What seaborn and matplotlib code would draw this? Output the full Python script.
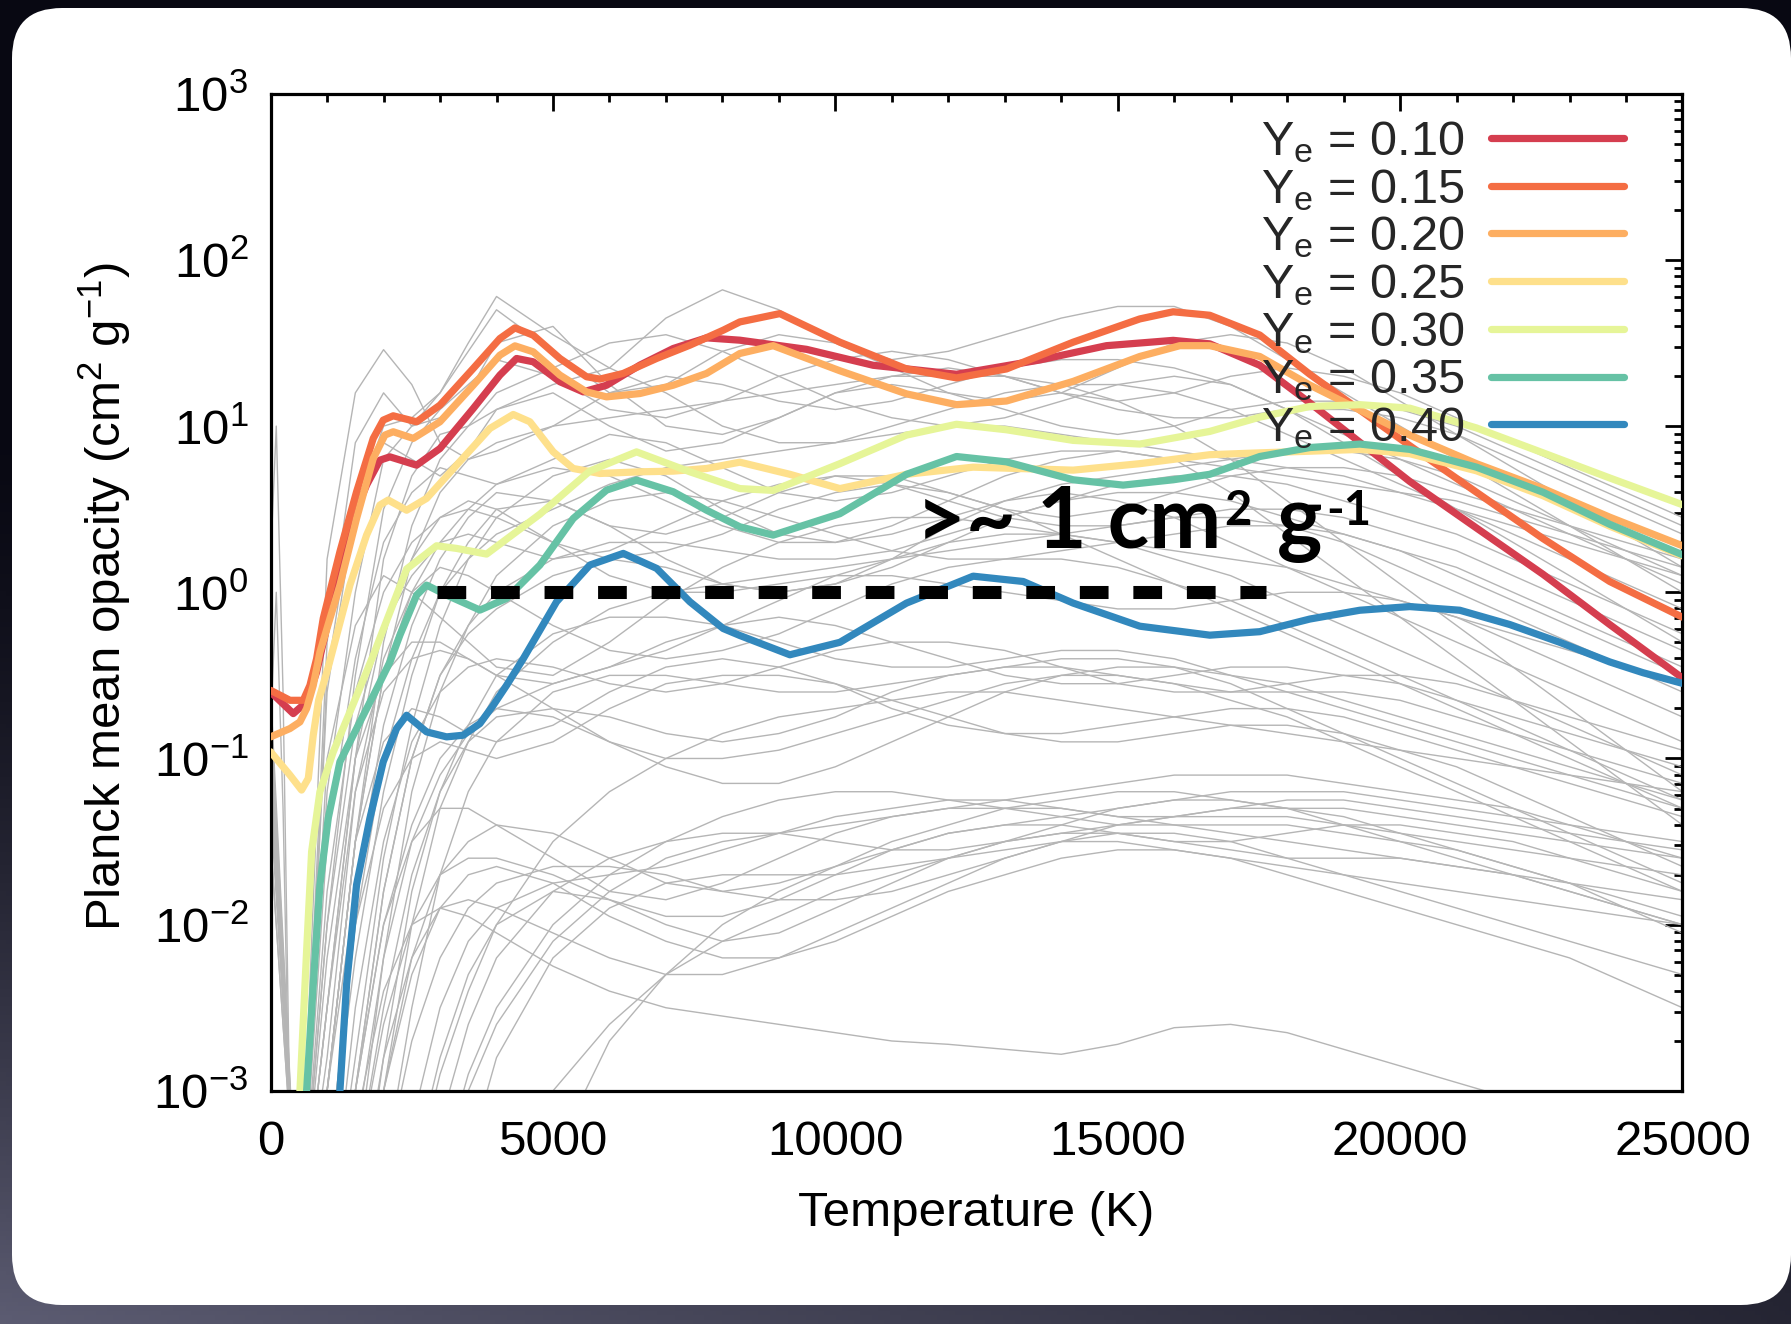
import numpy as np
import pandas as pd
import matplotlib
matplotlib.use("Agg")
import matplotlib.pyplot as plt
import seaborn as sns
from matplotlib.patches import FancyBboxPatch
from matplotlib.transforms import IdentityTransform
from matplotlib.ticker import MultipleLocator, LogLocator, NullFormatter, FuncFormatter
from matplotlib.lines import Line2D

# ---------------- data (log10 of opacity) ----------------
ye_labels = ["0.10", "0.15", "0.20", "0.25", "0.30", "0.35", "0.40"]
ye_colors = ["#d53e4f", "#f46d43", "#fdae61", "#fee08b", "#e6f598", "#66c2a5", "#3288bd"]

T_010 = [0, 401, 637, 814, 1000, 1230, 1520, 1699, 1935, 2112, 2585, 2998, 3588, 4060, 4355, 4650, 5122, 5535,
         5949, 6539, 7129, 7719, 8309, 9489, 10670, 12145, 13621, 14801, 15982, 16630, 17515, 18401, 19286,
         20171, 21352, 22532, 23712, 25000]
L_010 = [-0.60, -0.73, -0.66, -0.48, -0.20, 0.15, 0.50, 0.645, 0.795, 0.815, 0.765, 0.865, 1.106, 1.307, 1.407,
         1.387, 1.267, 1.206, 1.246, 1.367, 1.467, 1.531, 1.517, 1.462, 1.366, 1.312, 1.398, 1.484, 1.516, 1.495,
         1.366, 1.140, 0.903, 0.667, 0.387, 0.108, -0.194, -0.516]

T_015 = [0, 342, 578, 696, 814, 932, 1227, 1522, 1817, 1994, 2171, 2585, 2998, 3588, 4060, 4326, 4650, 5122,
         5594, 5831, 6244, 6834, 7424, 8014, 8309, 9017, 10080, 11260, 12145, 13030, 14211, 15391, 15982, 16630,
         17515, 18401, 19286, 20171, 21352, 22532, 23712, 25000]
L_015 = [-0.59, -0.65, -0.65, -0.56, -0.40, -0.157, 0.244, 0.605, 0.926, 1.036, 1.062, 1.026, 1.126, 1.347,
         1.527, 1.591, 1.547, 1.407, 1.297, 1.283, 1.317, 1.407, 1.487, 1.577, 1.627, 1.677, 1.505, 1.344, 1.290,
         1.344, 1.505, 1.645, 1.688, 1.667, 1.548, 1.312, 1.097, 0.882, 0.602, 0.323, 0.065, -0.15]

T_020 = [0, 342, 519, 637, 755, 873, 1227, 1522, 1817, 2024, 2171, 2526, 2998, 3588, 4060, 4326, 4650, 5122,
         5594, 5949, 6539, 7129, 7719, 8309, 8899, 10080, 11260, 12145, 13030, 14211, 15391, 16100, 16630,
         17515, 18401, 19286, 20171, 21352, 22532, 23712, 25000]
L_020 = [-0.87, -0.82, -0.78, -0.70, -0.56, -0.36, 0.043, 0.444, 0.805, 0.946, 0.966, 0.926, 1.026, 1.246,
         1.427, 1.483, 1.447, 1.307, 1.206, 1.176, 1.196, 1.246, 1.317, 1.437, 1.484, 1.333, 1.194, 1.129, 1.151,
         1.269, 1.419, 1.484, 1.484, 1.419, 1.247, 1.097, 0.946, 0.774, 0.624, 0.452, 0.280]

T_025 = [0, 342, 548, 667, 755, 850, 1020, 1404, 1699, 1935, 2083, 2408, 2762, 3293, 3883, 4296, 4591, 5004,
         5358, 5831, 6539, 7129, 7719, 8309, 9194, 10080, 11260, 12440, 14211, 15391, 16630, 17515, 18401,
         19286, 20171, 21352, 22532, 23712, 25000]
L_025 = [-0.96, -1.10, -1.19, -1.12, -0.86, -0.65, -0.45, 0.043, 0.344, 0.525, 0.555, 0.494, 0.565, 0.765,
         0.986, 1.070, 1.026, 0.845, 0.745, 0.715, 0.725, 0.729, 0.745, 0.783, 0.710, 0.624, 0.710, 0.753, 0.735,
         0.774, 0.828, 0.839, 0.849, 0.860, 0.834, 0.731, 0.581, 0.398, 0.219]

T_030 = [470, 519, 637, 726, 873, 1109, 1404, 1817, 2408, 2939, 3293, 3824, 4768, 5653, 6480, 7424, 8309, 8899,
         10080, 11260, 12145, 13030, 14211, 15391, 16630, 17515, 18401, 19286, 20171, 21352, 22532, 23712, 25000]
L_030 = [-3.5, -3.0, -2.16, -1.56, -1.20, -0.96, -0.72, -0.38, 0.14, 0.28, 0.264, 0.23, 0.47, 0.73, 0.845,
         0.725, 0.624, 0.613, 0.774, 0.946, 1.011, 0.978, 0.914, 0.892, 0.968, 1.054, 1.118, 1.129, 1.108, 0.989,
         0.839, 0.688, 0.527]

T_035 = [580, 637, 755, 873, 1020, 1227, 1522, 1850, 2112, 2289, 2585, 2762, 3116, 3706, 4178, 4768, 5358, 5949,
         6480, 7129, 7719, 8309, 8899, 10080, 11260, 12145, 13030, 14211, 15096, 15982, 16630, 17515, 18401,
         19286, 20171, 21352, 22532, 23712, 25000]
L_035 = [-3.5, -3.0, -2.36, -1.76, -1.36, -1.02, -0.82, -0.60, -0.42, -0.258, -0.017, 0.043, -0.017, -0.107,
         -0.037, 0.164, 0.444, 0.615, 0.675, 0.605, 0.494, 0.394, 0.344, 0.473, 0.710, 0.817, 0.785, 0.677, 0.645,
         0.677, 0.710, 0.817, 0.871, 0.892, 0.860, 0.753, 0.602, 0.409, 0.226]

T_040 = [1180, 1227, 1345, 1522, 1758, 1994, 2230, 2408, 2762, 3116, 3411, 3706, 3942, 4178, 4473, 5063, 5653,
         6244, 6834, 7424, 8014, 8309, 9194, 10080, 11260, 12440, 13326, 14211, 15391, 16630, 17515, 18401,
         19286, 20171, 21057, 21942, 22827, 23712, 24302, 25000]
L_040 = [-3.5, -3.0, -2.36, -1.76, -1.36, -1.02, -0.82, -0.74, -0.84, -0.87, -0.86, -0.79, -0.68, -0.56, -0.40,
         -0.057, 0.164, 0.234, 0.144, -0.057, -0.218, -0.26, -0.376, -0.301, -0.065, 0.097, 0.065, -0.065, -0.204,
         -0.258, -0.237, -0.161, -0.108, -0.086, -0.108, -0.194, -0.301, -0.419, -0.484, -0.548]

# background (grey) models, log10 values on a common temperature grid
T_grey = [0, 500, 1000, 1500, 2000, 2500, 3000, 3500, 4000, 5000, 6000, 7000, 8000, 9000, 10000, 11000, 12000,
          13000, 14000, 15000, 16000, 17000, 18000, 19000, 20000, 21000, 22000, 23000, 24000, 25000]
g_a1 = [-0.8,-4,-0.3,0.9,1.2,1.0,1.2,1.5,1.78,1.55,1.35,1.65,1.82,1.7,1.5,1.4,1.45,1.55,1.65,1.72,1.72,1.6,1.4,1.2,1.0,0.8,0.6,0.4,0.2,0.0]
g_a2 = [-1.0,-4,0.2,1.2,1.46,1.25,0.9,0.8,0.85,1.0,1.2,1.3,1.25,1.15,1.1,1.15,1.25,1.35,1.4,1.4,1.35,1.25,1.1,0.95,0.8,0.65,0.5,0.35,0.2,0.05]
g_a3 = [-1.2,-4,-0.6,0.5,1.0,1.05,1.2,1.45,1.7,1.45,1.2,1.25,1.45,1.55,1.5,1.35,1.2,1.15,1.2,1.35,1.5,1.55,1.5,1.35,1.15,0.95,0.75,0.55,0.35,0.15]
g_a4 = [-1.5,-4,-1.2,0.0,0.8,1.0,1.05,1.2,1.5,1.6,1.25,1.0,0.95,1.05,1.2,1.3,1.35,1.3,1.2,1.1,1.05,1.05,1.1,1.1,1.05,0.95,0.8,0.65,0.5,0.35]
g_a5 = [-4,-4,-2.0,-0.5,0.5,0.9,1.1,1.25,1.4,1.3,1.1,1.05,1.15,1.3,1.4,1.45,1.4,1.3,1.2,1.15,1.2,1.3,1.35,1.3,1.2,1.05,0.9,0.75,0.6,0.45]
g_a6 = [-4,-4,-2.5,-1.0,0.2,0.7,0.95,1.0,1.1,1.25,1.35,1.2,1.0,0.9,0.9,1.0,1.1,1.2,1.25,1.25,1.2,1.1,0.95,0.8,0.65,0.5,0.35,0.2,0.05,-0.1]
g_a7 = [-0.6,-4,-0.5,0.6,0.9,0.8,0.7,0.85,1.1,1.2,1.0,0.85,0.9,1.05,1.2,1.25,1.2,1.1,1.0,0.95,1.0,1.1,1.15,1.15,1.1,1.0,0.85,0.7,0.55,0.4]
g_a8 = [-4,-4,-3.0,-1.5,-0.3,0.4,0.8,1.0,1.2,1.35,1.5,1.55,1.45,1.3,1.15,1.05,1.0,1.05,1.15,1.25,1.3,1.25,1.1,0.9,0.7,0.5,0.3,0.1,-0.1,-0.3]
g_b1 = [-1.0,-4,-1.5,-0.4,0.3,0.6,0.75,0.7,0.65,0.8,0.95,0.9,0.75,0.6,0.55,0.6,0.7,0.8,0.85,0.85,0.8,0.75,0.7,0.65,0.6,0.55,0.45,0.35,0.25,0.15]
g_b2 = [-4,-4,-3.0,-1.8,-0.8,-0.2,0.2,0.45,0.6,0.55,0.4,0.35,0.45,0.6,0.7,0.7,0.6,0.5,0.45,0.5,0.6,0.7,0.75,0.75,0.7,0.6,0.5,0.4,0.3,0.2]
g_b3 = [-4,-4,-4,-2.8,-1.6,-0.8,-0.2,0.2,0.45,0.7,0.8,0.7,0.5,0.35,0.3,0.35,0.45,0.55,0.6,0.55,0.45,0.3,0.15,0.0,-0.15,-0.3,-0.45,-0.6,-0.75,-0.9]
g_b4 = [-1.3,-4,-2.0,-0.8,-0.2,0.1,0.3,0.35,0.3,0.2,0.25,0.4,0.55,0.65,0.7,0.65,0.55,0.45,0.4,0.4,0.45,0.5,0.5,0.45,0.35,0.25,0.1,-0.05,-0.2,-0.35]
g_b5 = [-4,-4,-3.5,-2.2,-1.2,-0.5,0.0,0.3,0.5,0.55,0.4,0.2,0.05,0.0,0.05,0.15,0.3,0.45,0.55,0.6,0.6,0.55,0.45,0.35,0.25,0.1,-0.05,-0.2,-0.35,-0.5]
g_b6 = [-4,-4,-4,-3.5,-2.2,-1.2,-0.6,-0.2,0.1,0.4,0.55,0.6,0.55,0.45,0.35,0.25,0.2,0.2,0.25,0.3,0.35,0.4,0.4,0.35,0.25,0.15,0.0,-0.15,-0.3,-0.45]
g_b7 = [-0.9,-4,-1.0,-0.2,0.1,0.0,-0.15,-0.3,-0.45,-0.5,-0.3,-0.05,0.15,0.3,0.4,0.45,0.45,0.4,0.35,0.3,0.25,0.2,0.15,0.05,-0.05,-0.15,-0.25,-0.35,-0.45,-0.55]
g_b8 = [-4,-4,-3.0,-1.5,-0.5,0.0,0.3,0.5,0.65,0.75,0.7,0.55,0.4,0.3,0.3,0.4,0.55,0.7,0.8,0.85,0.8,0.6,0.35,0.1,-0.15,-0.4,-0.65,-0.9,-1.15,-1.4]
g_b9 = [-4,-4,-4,-3.0,-1.8,-1.0,-0.5,-0.2,0.0,0.2,0.3,0.3,0.25,0.2,0.2,0.25,0.35,0.45,0.55,0.65,0.7,0.7,0.65,0.55,0.45,0.35,0.2,0.05,-0.1,-0.25]
g_b10 = [-4,-4,-2.5,-1.0,-0.2,0.2,0.45,0.55,0.5,0.3,0.1,0.0,0.0,0.05,0.1,0.1,0.05,0.0,-0.05,-0.1,-0.1,-0.05,0.0,0.0,-0.05,-0.15,-0.3,-0.45,-0.6,-0.75]
g_c1 = [-1.2,-4,-2.2,-1.0,-0.5,-0.3,-0.3,-0.4,-0.5,-0.55,-0.45,-0.3,-0.2,-0.15,-0.2,-0.3,-0.4,-0.5,-0.55,-0.55,-0.5,-0.45,-0.45,-0.5,-0.55,-0.65,-0.75,-0.85,-0.95,-1.05]
g_c2 = [-4,-4,-4,-2.5,-1.5,-0.9,-0.6,-0.45,-0.4,-0.45,-0.55,-0.6,-0.55,-0.45,-0.35,-0.3,-0.3,-0.35,-0.45,-0.55,-0.6,-0.6,-0.55,-0.5,-0.5,-0.55,-0.65,-0.75,-0.85,-0.95]
g_c3 = [-4,-4,-4,-4,-2.8,-1.8,-1.2,-0.8,-0.5,-0.25,-0.15,-0.15,-0.2,-0.3,-0.4,-0.45,-0.45,-0.4,-0.35,-0.35,-0.4,-0.5,-0.6,-0.7,-0.8,-0.9,-1.0,-1.1,-1.2,-1.3]
g_c4 = [-1.5,-4,-3.0,-1.5,-0.9,-0.7,-0.75,-0.85,-0.9,-0.8,-0.6,-0.45,-0.4,-0.45,-0.55,-0.7,-0.8,-0.85,-0.85,-0.8,-0.75,-0.7,-0.7,-0.75,-0.85,-0.95,-1.05,-1.15,-1.25,-1.35]
g_c5 = [-4,-4,-4,-3.5,-2.5,-1.7,-1.2,-0.9,-0.75,-0.7,-0.75,-0.85,-0.9,-0.85,-0.75,-0.6,-0.5,-0.45,-0.45,-0.5,-0.55,-0.6,-0.6,-0.6,-0.65,-0.75,-0.85,-0.95,-1.05,-1.15]
g_c6 = [-4,-4,-3.5,-2.0,-1.3,-1.0,-0.9,-0.95,-1.0,-0.9,-0.7,-0.55,-0.5,-0.5,-0.55,-0.65,-0.75,-0.85,-0.9,-0.9,-0.85,-0.8,-0.8,-0.85,-0.95,-1.05,-1.2,-1.35,-1.5,-1.65]
g_c7 = [-4,-4,-4,-4,-3.5,-2.5,-1.7,-1.2,-0.9,-0.6,-0.5,-0.5,-0.55,-0.6,-0.6,-0.55,-0.5,-0.45,-0.4,-0.4,-0.45,-0.55,-0.7,-0.85,-1.0,-1.15,-1.3,-1.45,-1.6,-1.75]
g_c8 = [-4,-4,-4,-3.0,-2.0,-1.4,-1.0,-0.8,-0.7,-0.75,-0.9,-1.05,-1.15,-1.15,-1.05,-0.9,-0.75,-0.6,-0.5,-0.45,-0.45,-0.5,-0.55,-0.65,-0.75,-0.85,-0.95,-1.05,-1.15,-1.25]
g_d1 = [-4,-4,-4,-3.0,-2.0,-1.5,-1.3,-1.3,-1.4,-1.6,-1.8,-1.85,-1.75,-1.6,-1.45,-1.35,-1.3,-1.3,-1.3,-1.35,-1.4,-1.45,-1.5,-1.55,-1.6,-1.65,-1.7,-1.75,-1.8,-1.85]
g_d2 = [-4,-4,-4,-4,-3.0,-2.2,-1.7,-1.5,-1.4,-1.45,-1.6,-1.75,-1.8,-1.75,-1.65,-1.5,-1.4,-1.3,-1.25,-1.2,-1.2,-1.25,-1.3,-1.4,-1.5,-1.6,-1.7,-1.8,-1.9,-2.0]
g_d3 = [-4,-4,-4,-4,-4,-3.2,-2.5,-2.1,-1.9,-1.75,-1.7,-1.65,-1.55,-1.45,-1.35,-1.3,-1.25,-1.25,-1.3,-1.35,-1.35,-1.3,-1.25,-1.25,-1.3,-1.35,-1.4,-1.45,-1.5,-1.55]
g_d4 = [-4,-4,-4,-3.5,-2.6,-2.0,-1.7,-1.6,-1.6,-1.7,-1.85,-1.95,-1.95,-1.85,-1.7,-1.55,-1.45,-1.4,-1.4,-1.45,-1.5,-1.5,-1.45,-1.4,-1.4,-1.45,-1.5,-1.6,-1.7,-1.8]
g_d5 = [-4,-4,-4,-4,-4,-4,-3.2,-2.6,-2.2,-1.8,-1.6,-1.5,-1.45,-1.45,-1.5,-1.55,-1.55,-1.5,-1.45,-1.4,-1.35,-1.35,-1.35,-1.4,-1.45,-1.5,-1.55,-1.6,-1.65,-1.7]
g_d6 = [-4,-4,-4,-4,-3.5,-2.7,-2.2,-1.9,-1.75,-1.65,-1.65,-1.7,-1.8,-1.85,-1.85,-1.8,-1.7,-1.6,-1.5,-1.4,-1.35,-1.3,-1.3,-1.3,-1.35,-1.4,-1.45,-1.5,-1.55,-1.6]
g_d7 = [-4,-4,-4,-4,-4,-3.5,-2.8,-2.3,-2.0,-1.8,-1.85,-2.0,-2.1,-2.05,-1.9,-1.75,-1.6,-1.5,-1.45,-1.45,-1.5,-1.55,-1.6,-1.6,-1.6,-1.65,-1.7,-1.8,-1.9,-2.0]
g_d8 = [-4,-4,-4,-4,-4,-4,-3.5,-3.0,-2.6,-2.1,-1.8,-1.6,-1.5,-1.45,-1.4,-1.35,-1.3,-1.25,-1.2,-1.15,-1.1,-1.1,-1.1,-1.15,-1.2,-1.25,-1.3,-1.4,-1.5,-1.6]
g_d9 = [-4,-4,-4,-4,-3.0,-2.3,-1.9,-1.7,-1.65,-1.75,-1.95,-2.1,-2.2,-2.2,-2.1,-1.95,-1.8,-1.7,-1.6,-1.55,-1.55,-1.6,-1.65,-1.7,-1.75,-1.8,-1.85,-1.9,-1.95,-2.0]
g_d10 = [-4,-4,-4,-4,-4,-4,-4,-3.4,-2.8,-2.2,-1.9,-1.75,-1.7,-1.7,-1.7,-1.65,-1.6,-1.5,-1.4,-1.3,-1.25,-1.25,-1.3,-1.35,-1.45,-1.55,-1.65,-1.75,-1.85,-1.95]
g_d11 = [-4,-4,-4,-3.8,-2.8,-2.2,-1.9,-1.85,-1.9,-2.05,-2.2,-2.3,-2.3,-2.2,-2.05,-1.9,-1.75,-1.6,-1.5,-1.45,-1.45,-1.5,-1.6,-1.7,-1.8,-1.9,-2.0,-2.1,-2.2,-2.3]
g_d12 = [-4,-4,-4,-3.2,-2.4,-2.0,-1.9,-1.95,-2.05,-2.25,-2.4,-2.5,-2.55,-2.6,-2.65,-2.7,-2.72,-2.75,-2.78,-2.72,-2.62,-2.6,-2.65,-2.75,-2.85,-2.95,-3.05,-3.15,-3.25,-3.35]
g_d13 = [-4,-4,-4,-4,-4,-4,-4,-4,-3.6,-3.0,-2.6,-2.3,-2.1,-1.95,-1.8,-1.7,-1.6,-1.55,-1.5,-1.5,-1.55,-1.6,-1.7,-1.8,-1.9,-2.0,-2.1,-2.2,-2.35,-2.5]
g_d14 = [-4,-4,-4,-4,-4,-4,-3.5,-2.9,-2.5,-2.0,-1.7,-1.5,-1.35,-1.25,-1.2,-1.2,-1.25,-1.3,-1.35,-1.4,-1.4,-1.4,-1.4,-1.45,-1.5,-1.55,-1.65,-1.75,-1.9,-2.05]
g_d15 = [-4,-4,-4,-4,-4,-4,-4,-4,-4,-3.4,-2.7,-2.3,-2.0,-1.8,-1.65,-1.55,-1.45,-1.4,-1.35,-1.3,-1.25,-1.2,-1.2,-1.2,-1.25,-1.3,-1.35,-1.4,-1.45,-1.5]
g_e1 = [-4,-4,-3.5,-2.0,-1.0,-0.4,0.0,0.2,0.35,0.5,0.65,0.75,0.8,0.85,0.9,0.95,1.0,1.0,0.95,0.9,0.85,0.8,0.75,0.7,0.6,0.5,0.4,0.3,0.2,0.1]
g_e2 = [-4,-4,-4,-3.0,-1.8,-1.0,-0.5,-0.25,-0.1,0.1,0.2,0.15,0.05,0.0,0.05,0.2,0.4,0.55,0.65,0.7,0.75,0.8,0.85,0.85,0.8,0.7,0.55,0.4,0.25,0.1]
g_e3 = [-0.7,-4,-1.8,-0.6,0.0,0.3,0.45,0.5,0.45,0.3,0.2,0.25,0.35,0.5,0.6,0.65,0.6,0.5,0.35,0.2,0.05,-0.1,-0.25,-0.4,-0.55,-0.7,-0.85,-1.0,-1.15,-1.3]
g_e4 = [-4,-4,-4,-4,-3.0,-2.0,-1.3,-0.9,-0.6,-0.3,-0.1,0.0,0.05,0.1,0.15,0.2,0.25,0.3,0.35,0.4,0.45,0.45,0.4,0.3,0.15,0.0,-0.15,-0.3,-0.45,-0.6]
g_e5 = [-4,-4,-2.8,-1.2,-0.4,0.0,0.15,0.1,0.0,-0.2,-0.35,-0.4,-0.35,-0.25,-0.1,0.05,0.15,0.2,0.2,0.15,0.05,-0.05,-0.2,-0.35,-0.5,-0.65,-0.8,-0.95,-1.1,-1.25]
g_e6 = [-4,-4,-4,-3.3,-2.2,-1.5,-1.1,-0.85,-0.7,-0.55,-0.45,-0.35,-0.2,-0.05,0.1,0.2,0.3,0.35,0.35,0.3,0.2,0.1,-0.05,-0.2,-0.35,-0.5,-0.65,-0.8,-0.95,-1.1]
g_e7 = [-1.1,-4,-2.5,-1.2,-0.6,-0.4,-0.35,-0.4,-0.5,-0.7,-0.9,-1.0,-1.0,-0.95,-0.85,-0.75,-0.65,-0.55,-0.5,-0.5,-0.55,-0.65,-0.75,-0.9,-1.05,-1.2,-1.35,-1.5,-1.65,-1.8]
g_e8 = [-4,-4,-4,-4,-4,-3.6,-2.9,-2.4,-2.0,-1.5,-1.2,-1.0,-0.85,-0.75,-0.7,-0.65,-0.6,-0.6,-0.65,-0.7,-0.75,-0.8,-0.85,-0.9,-0.95,-1.0,-1.05,-1.1,-1.15,-1.2]
g_e9 = [-4,-4,-3.0,-1.5,-0.5,0.2,0.6,0.8,0.9,1.0,1.05,1.1,1.15,1.2,1.25,1.3,1.3,1.3,1.25,1.15,1.0,0.8,0.55,0.3,0.05,-0.2,-0.45,-0.7,-0.95,-1.2]

# short spikes hugging the left axis
T_spike = [0, 100, 220, 380]
g_s1 = [0.2, 1.0, -0.6, -4.0]
g_s2 = [-0.8, 0.0, -1.3, -4.0]

# threshold line and annotation
dash_T = [2950, 17620]
dash_v = [1.0, 1.0]
note_T = 11420
note_log = 0.272

# ---------------- style ----------------
sns.set_theme(style="white")
plt.rcParams["font.family"] = ["Liberation Sans", "DejaVu Sans"]
plt.rcParams["mathtext.fontset"] = "custom"
plt.rcParams["mathtext.rm"] = "Liberation Sans"
plt.rcParams["mathtext.it"] = "Liberation Sans:italic"
plt.rcParams["mathtext.bf"] = "Liberation Sans:bold"

FS = 35.5

W, H = 1791, 1324
fig = plt.figure(figsize=(W / 100, H / 100), dpi=100)
fig.patch.set_facecolor("#07070f")

# slide background with soft gradient + white rounded panel
bg = fig.add_axes([0, 0, 1, 1], zorder=-10)
bg.set_axis_off()
yy, xx = np.mgrid[0:1:300j, 0:1:300j]
f = np.clip((yy - 0.3) / 0.7, 0, 1) ** 1.6 * (1 - 0.65 * xx)
dark = np.array([8, 8, 18]) / 255
light = np.array([92, 92, 114]) / 255
img = dark[None, None, :] + (light - dark)[None, None, :] * f[..., None]
bg.imshow(img, extent=[0, 1, 0, 1], aspect="auto", origin="upper")
bg.set_xlim(0, 1); bg.set_ylim(0, 1)
panel = FancyBboxPatch((12, 19), W - 12, H - 8 - 19, boxstyle="round,pad=0,rounding_size=50",
                       transform=IdentityTransform(), facecolor="white", edgecolor="none", clip_on=False)
bg.add_patch(panel)

ax = fig.add_axes([0.1511, 0.1761, 0.7883, 0.7531])
ax.set_facecolor("white")

# ---------------- grey background models ----------------
grey_sets = [g_a1, g_a2, g_a3, g_a4, g_a5, g_a6, g_a7, g_a8, g_b1, g_b2, g_b3, g_b4, g_b5, g_b6, g_b7, g_b8,
             g_b9, g_b10, g_c1, g_c2, g_c3, g_c4, g_c5, g_c6, g_c7, g_c8, g_d1, g_d2, g_d3, g_d4, g_d5, g_d6,
             g_d7, g_d8, g_d9, g_d10, g_d11, g_d12, g_d13, g_d14, g_d15,
             g_e1, g_e2, g_e3, g_e4, g_e5, g_e6, g_e7, g_e8, g_e9]
frames = []
for i, vals in enumerate(grey_sets):
    frames.append(pd.DataFrame({"T": T_grey, "kappa": 10.0 ** np.array(vals), "curve": i}))
for j, vals in enumerate([g_s1, g_s2]):
    frames.append(pd.DataFrame({"T": T_spike, "kappa": 10.0 ** np.array(vals), "curve": 100 + j}))
grey_df = pd.concat(frames, ignore_index=True)
sns.lineplot(data=grey_df, x="T", y="kappa", units="curve", estimator=None, color="#b5b5b5",
             linewidth=1.0, ax=ax, legend=False, zorder=1)

# ---------------- highlighted Ye models ----------------
col_T = [T_010, T_015, T_020, T_025, T_030, T_035, T_040]
col_L = [L_010, L_015, L_020, L_025, L_030, L_035, L_040]
cframes = []
for lab, tt, ll in zip(ye_labels, col_T, col_L):
    cframes.append(pd.DataFrame({"T": tt, "kappa": 10.0 ** np.array(ll), "Ye": lab}))
col_df = pd.concat(cframes, ignore_index=True)
sns.lineplot(data=col_df, x="T", y="kappa", hue="Ye", hue_order=ye_labels,
             palette=dict(zip(ye_labels, ye_colors)), estimator=None, linewidth=5.2,
             ax=ax, legend=False, zorder=3)

# threshold dashes
ax.plot(dash_T, dash_v, color="black", linewidth=9.4, dashes=(2.2, 1.9),
        dash_capstyle="butt", zorder=5)

# ---------------- axes ----------------
ax.set_yscale("log")
ax.set_xlim(0, 25000)
ax.set_ylim(1e-3, 1e3)
ax.xaxis.set_major_locator(MultipleLocator(5000))
ax.xaxis.set_minor_locator(MultipleLocator(1000))
ax.xaxis.set_major_formatter(FuncFormatter(lambda v, p: f"{int(round(v))}"))
ax.yaxis.set_major_locator(LogLocator(base=10, numticks=20))
ax.yaxis.set_minor_locator(LogLocator(base=10, subs=np.arange(2, 10), numticks=20))
ax.yaxis.set_minor_formatter(NullFormatter())
ax.tick_params(which="both", direction="in", top=True, right=True, color="black", width=2.0)
ax.tick_params(which="major", length=12, labelsize=FS, labelcolor="black")
ax.tick_params(which="minor", length=6)
ax.tick_params(axis="x", which="major", pad=21)
ax.tick_params(axis="y", which="major", pad=16)
for s in ax.spines.values():
    s.set_visible(True)
    s.set_color("black")
    s.set_linewidth(2.3)
ax.grid(False)

ax.set_xlabel("Temperature (K)", fontsize=FS, color="black")
ax.set_ylabel(r"Planck mean opacity (cm$^{2}$ g$^{-1}$)", fontsize=FS, color="black")
ax.xaxis.set_label_coords(0.5, -0.1)
ax.yaxis.set_label_coords(-0.0975, 0.496)

# legend (gnuplot style: text then sample)
handles = [Line2D([], [], color=c, linewidth=5.2) for c in ye_colors]
labels = [r"$\mathdefault{Y_e}$ = " + l for l in ye_labels]
leg = ax.legend(handles, labels, loc="upper right", bbox_to_anchor=(0.9588, 0.9745), frameon=False,
                markerfirst=False, handlelength=2.75, handletextpad=0.55, labelspacing=0.04,
                fontsize=35, borderpad=0, borderaxespad=0)
leg.set_zorder(6)

# annotation ">~ 1 cm^2 g^-1"
big = dict(family=["Lato", "DejaVu Sans"], fontweight="bold", color="black", zorder=7)
t1 = ax.text(note_T, 10 ** note_log, ">~ 1 cm", fontsize=62, ha="left", va="baseline", **big)
fig.canvas.draw()
r = fig.canvas.get_renderer()
base_y = ax.transData.transform((note_T, 10 ** note_log))[1]
bb1 = t1.get_window_extent(r)
t2 = fig.text(bb1.x1 + 3, base_y + 22, "2", fontsize=34, ha="left", va="baseline",
              transform=IdentityTransform(), **big)
bb2 = t2.get_window_extent(r)
t3 = fig.text(bb2.x1 + 26, base_y, "g", fontsize=62, ha="left", va="baseline",
              transform=IdentityTransform(), **big)
bb3 = t3.get_window_extent(r)
t4 = fig.text(bb3.x1 + 3, base_y + 22, "-1", fontsize=34, ha="left", va="baseline",
              transform=IdentityTransform(), **big)

fig.savefig("out.png", dpi=100, facecolor=fig.get_facecolor())
